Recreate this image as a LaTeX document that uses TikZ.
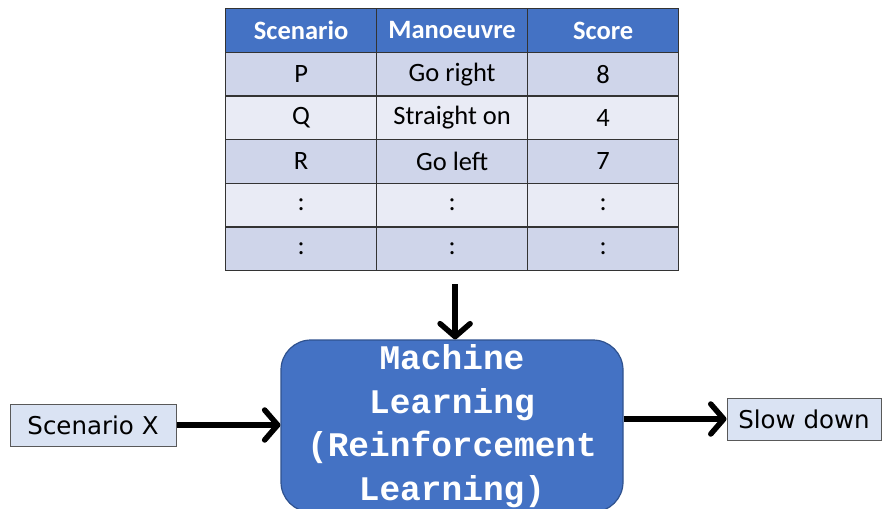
\documentclass[tikz,border=0pt]{standalone}
\usepackage{fontspec}
\setmainfont{Carlito}
\newfontfamily\monof{Liberation Mono}
\newfontfamily\handf{DejaVu Sans}
\usetikzlibrary{arrows.meta,calc}
\definecolor{hdr}{HTML}{4472C4}
\definecolor{rowA}{HTML}{CFD5EA}
\definecolor{rowB}{HTML}{E9EBF5}
\definecolor{mlborder}{HTML}{2F528F}
\definecolor{iobox}{HTML}{DAE3F3}
\definecolor{iodraw}{HTML}{595959}
\tikzset{
  cell/.style={draw=black!80, line width=1.2pt, minimum width=151pt, minimum height=43.67pt, inner sep=0pt, anchor=north west, font=\fontsize{26.5}{30}\selectfont},
  hcell/.style={cell, fill=hdr, text=white, font=\fontsize{26.5}{30}\selectfont\bfseries},
  arr/.style={line width=5.5pt, -{Straight Barb[length=13pt,width=30pt,round]}},
  iob/.style={draw=iodraw, fill=iobox, line width=1pt, inner sep=0pt, font=\handf\fontsize{24.5}{28}\selectfont},
}
\begin{document}
\begin{tikzpicture}[x=1pt,y=-1pt]
\useasboundingbox (0,0) rectangle (882,508);
% header
\node[hcell] (h1) at (225,8) {Scenario};
\node[hcell] (h2) at (376,8) {Manoeuvre};
\node[hcell] (h3) at (527,8) {Score};
% rows
\foreach \r/\a/\b/\c/\f in {1/P/Go right/8/rowA, 2/Q/Straight on/4/rowB, 3/R/Go left/7/rowA, 4/:/:/:/rowB, 5/:/:/:/rowA}{
  \node[cell, fill=\f] (r\r c1) at (225,{8+43.67*\r}) {\a};
  \node[cell, fill=\f] (r\r c2) at (376,{8+43.67*\r}) {\b};
  \node[cell, fill=\f] (r\r c3) at (527,{8+43.67*\r}) {\c};
}
% ML box
\node[draw=mlborder, fill=hdr, line width=1.2pt, rounded corners=30pt, minimum width=342pt, minimum height=172pt, inner sep=0pt, text=white, align=center, font=\monof\bfseries\fontsize{34.5}{43.5}\selectfont] (ml) at (452,426) {Machine\\Learning\\(Reinforcement\\Learning)};
% input / output
\node[iob, minimum width=166pt, minimum height=42pt] (sx) at (93,425) {Scenario X};
\node[iob, minimum width=154pt, minimum height=42pt] (sd) at (804,419) {Slow down};
% arrows
\coordinate (tb) at ($(r5c2.south)+(3,13)$);
\draw[arr] (tb) -- (tb |- ml.north);
\draw[arr] (sx.east) -- (sx.east -| ml.west);
\draw[arr] (ml.east |- sd.west) -- (sd.west);
\end{tikzpicture}
\end{document}
